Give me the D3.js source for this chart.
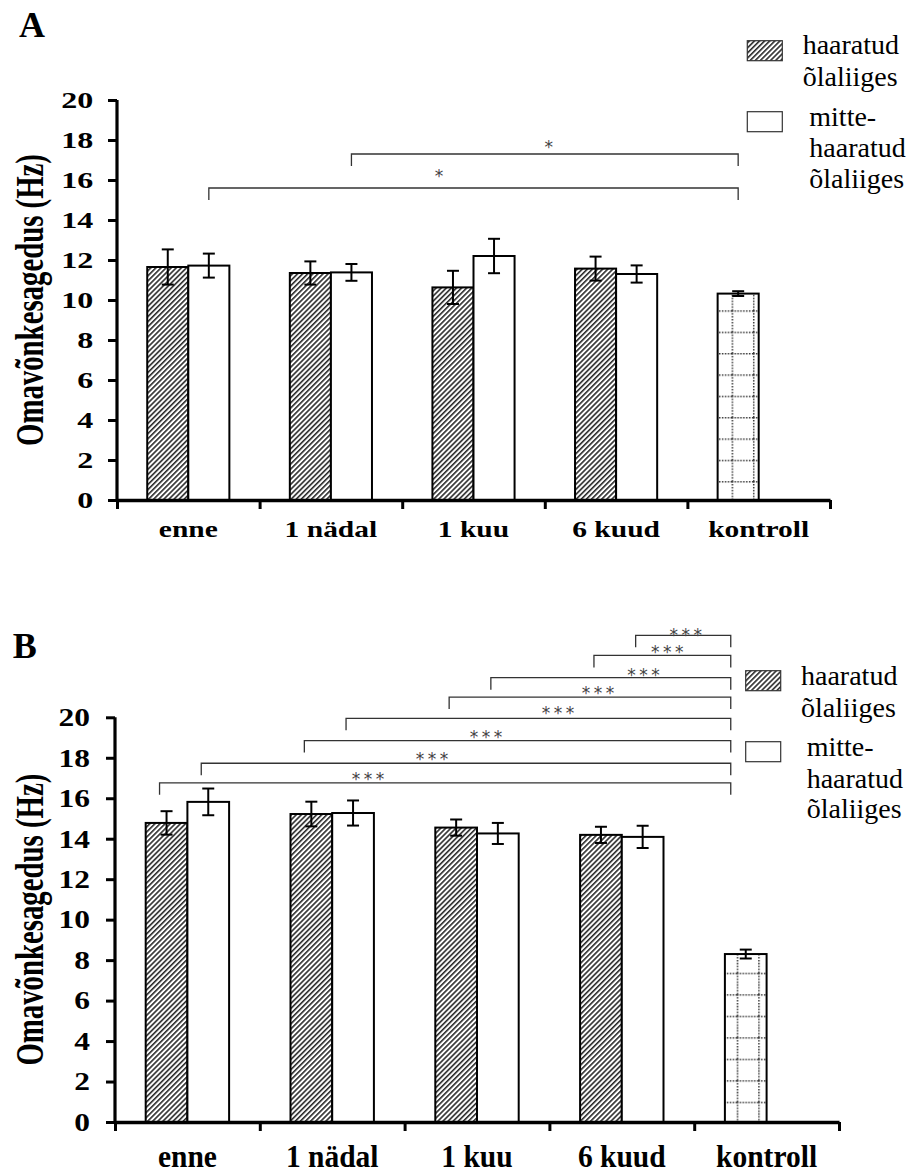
<!DOCTYPE html>
<html>
<head>
<meta charset="utf-8">
<script src="https://cdn.jsdelivr.net/npm/d3@7"></script>
<style>
  html, body { margin: 0; padding: 0; background: #fff; }
  svg { display: block; }
</style>
</head>
<body>
<svg id="chart" width="909" height="1173"></svg>
<script>
// ---------------- DATA ----------------
const categories = ["enne", "1 nädal", "1 kuu", "6 kuud", "kontroll"];
const seriesNames = ["haaratud õlaliiges", "mitte-haaratud õlaliiges"];
const yTicks = [0, 2, 4, 6, 8, 10, 12, 14, 16, 18, 20];

// Panel A
const affectedA      = [11.65, 11.35, 10.63, 11.57];
const affectedErrA   = [0.88, 0.58, 0.83, 0.60];
const unaffectedA    = [11.72, 11.38, 12.20, 11.30];
const unaffectedErrA = [0.60, 0.42, 0.86, 0.43];
const controlA = [10.32];
const controlErrA = [0.12];

// Panel B
const affectedB      = [14.78, 15.22, 14.55, 14.19];
const affectedErrB   = [0.58, 0.61, 0.40, 0.40];
const unaffectedB    = [15.82, 15.27, 14.26, 14.09];
const unaffectedErrB = [0.66, 0.62, 0.52, 0.55];
const controlB = [8.30];
const controlErrB = [0.22];

// Significance comparisons vs. kontroll: [category index, series index]
const sigPairsA = [[0, 1], [1, 1]];
const sigLabelsA = ["*", "*"];
const sigPairsB = [[0, 0], [0, 1], [1, 0], [1, 1], [2, 0], [2, 1], [3, 0], [3, 1]];
const sigLabelsB = ["***", "***", "***", "***", "***", "***", "***", "***"];

// ---------------- LAYOUT ----------------
const layoutA = {
  letter: "A", letterX: 19, letterY: 36.7,
  x0: 117, x1: 830, yTop: 100, yBottom: 500,
  tickFont: 32, tickSy: 0.73, tickX: 93.3, tickDy: 8.3,
  catFont: 29.5, catSy: 0.76, catY: 536.5,
  titleX: 42.7, titleSx: 1.37, titleFont: 28.8,
  bracketLevels: [15.6, 17.3], starFrac: [0.435, 0.51], starCenter: [16, 10.3],
  bracketLeftShift: 0, bracketRightShift: 0, leg: 12,
  legendX: 747.3, legendSwY: [40.7, 111.7], legendTextX: [802.7, 809.3],
  legendLines: [[54.3, 86], [126, 157.3, 188.3]],
  ctrlPatternOffset: [5.7, 11.4], ctrlCell: 21.35
};
const layoutB = {
  letter: "B", letterX: 12.7, letterY: 658.3,
  x0: 115, x1: 839, yTop: 717.3, yBottom: 1122,
  tickFont: 31.5, tickSy: 0.81, tickX: 90, tickDy: 8.8,
  catFont: 29.5, catSy: 1.04, catY: 1167,
  titleX: 42.7, titleSx: 1.37, titleFont: 28.8,
  bracketLevels: [16.76, 17.73, 18.85, 19.95, 21.0, 21.96, 23.06, 24.05],
  starFrac: [0.365, 0.436, 0.426, 0.551, 0.529, 0.636, 0.536, 0.528],
  starCenter: [7.7, 8, 7, 9, 7.7, 6.3, 7.3, 4.2],
  bracketLeftShift: -7, bracketRightShift: -15, leg: 12,
  legendX: 745.7, legendSwY: [670.7, 741.7], legendTextX: [801, 806.7],
  legendLines: [[685, 716.7], [756, 788.3, 818.3]],
  ctrlPatternOffset: [5.7, 5.2], ctrlCell: 21.5
};

const SERIF = "Liberation Serif, Times New Roman, serif";
const STAR_FONT = "DejaVu Sans, sans-serif";
const STAR_FS = 17;
const svg = d3.select("#chart");
const defs = svg.append("defs");

// hatch pattern
const hatch = defs.append("pattern")
  .attr("id", "hatch").attr("patternUnits", "userSpaceOnUse")
  .attr("width", 3.6).attr("height", 3.6)
  .attr("patternTransform", "rotate(45)");
hatch.append("rect").attr("width", 3.6).attr("height", 3.6).attr("fill", "#fff");
hatch.append("line").attr("x1", 0.8).attr("y1", 0).attr("x2", 0.8).attr("y2", 3.6)
  .attr("stroke", "#2a2a2a").attr("stroke-width", 1.6);

function makeCtrlPattern(id, L) {
  const c = L.ctrlCell;
  const p = defs.append("pattern").attr("id", id)
    .attr("patternUnits", "userSpaceOnUse")
    .attr("x", L.ctrlPatternOffset[0]).attr("y", L.ctrlPatternOffset[1])
    .attr("width", c).attr("height", c);
  p.append("rect").attr("width", c).attr("height", c).attr("fill", "#fff");
  p.append("line").attr("x1", 0).attr("y1", 0).attr("x2", c).attr("y2", 0)
    .attr("stroke", "#333").attr("stroke-width", 3).attr("stroke-dasharray", "1.5,1.4");
  p.append("line").attr("x1", 0).attr("y1", 0).attr("x2", 0).attr("y2", c)
    .attr("stroke", "#333").attr("stroke-width", 3).attr("stroke-dasharray", "1.5,1.4");
}
makeCtrlPattern("ctrlA", layoutA);
makeCtrlPattern("ctrlB", layoutB);

function drawPanel(L, affected, affErr, unaffected, unaffErr, control, controlErr, sigPairs, sigLabels, ctrlId) {
  const g = svg.append("g");
  const x = d3.scaleBand().domain(categories).range([L.x0, L.x1]).paddingInner(0).paddingOuter(0);
  const y = d3.scaleLinear().domain([0, 20]).range([L.yBottom, L.yTop]);
  const bw = x.bandwidth() * 0.288;
  const barX = (ci, si) => x(categories[ci]) + x.bandwidth() / 2 - bw + si * bw;
  const barC = (ci, si) => barX(ci, si) + bw / 2;

  // panel letter
  g.append("text").attr("x", L.letterX).attr("y", L.letterY)
    .attr("font-family", SERIF).attr("font-weight", "bold").attr("font-size", 36)
    .text(L.letter);

  // bars
  const barData = [];
  affected.forEach((v, i) => barData.push({ ci: i, si: 0, v, e: affErr[i], fill: "url(#hatch)" }));
  unaffected.forEach((v, i) => barData.push({ ci: i, si: 1, v, e: unaffErr[i], fill: "#fff" }));
  control.forEach((v, i) => barData.push({ ci: 4, si: 0, v, e: controlErr[i], fill: `url(#${ctrlId})` }));

  g.selectAll("rect.bar").data(barData).join("rect").attr("class", "bar")
    .attr("x", d => barX(d.ci, d.si)).attr("width", bw)
    .attr("y", d => y(d.v)).attr("height", d => y(0) - y(d.v))
    .attr("fill", d => d.fill).attr("stroke", "#000").attr("stroke-width", 2);

  // error bars
  const eb = g.selectAll("g.err").data(barData).join("g").attr("class", "err")
    .attr("stroke", "#000").attr("stroke-width", 2);
  eb.append("line").attr("x1", d => barC(d.ci, d.si)).attr("x2", d => barC(d.ci, d.si))
    .attr("y1", d => y(d.v - d.e)).attr("y2", d => y(d.v + d.e));
  eb.append("line").attr("x1", d => barC(d.ci, d.si) - 6).attr("x2", d => barC(d.ci, d.si) + 6)
    .attr("y1", d => y(d.v + d.e)).attr("y2", d => y(d.v + d.e));
  eb.append("line").attr("x1", d => barC(d.ci, d.si) - 6).attr("x2", d => barC(d.ci, d.si) + 6)
    .attr("y1", d => y(d.v - d.e)).attr("y2", d => y(d.v - d.e));

  // y axis
  const yAxis = d3.axisLeft(y).tickValues(yTicks).tickSize(9).tickFormat("");
  const ya = g.append("g").attr("transform", `translate(${L.x0},0)`).call(yAxis);
  ya.select(".domain").attr("d", `M0,${L.yTop}V${L.yBottom}`).attr("stroke-width", 3.2);
  ya.selectAll(".tick line").attr("stroke-width", 3);
  g.selectAll("text.ytick").data(yTicks).join("text").attr("class", "ytick")
    .attr("transform", d => `translate(${L.tickX},${y(d) + L.tickDy}) scale(1,${L.tickSy})`)
    .attr("text-anchor", "end").attr("font-family", SERIF).attr("font-weight", "bold")
    .attr("font-size", L.tickFont).text(d => d);

  // x axis
  const xb = d3.scaleLinear().domain([0, categories.length]).range([L.x0, L.x1]);
  const xAxis = d3.axisBottom(xb).tickValues(d3.range(categories.length + 1)).tickSize(9).tickFormat("").tickSizeOuter(0);
  const xa = g.append("g").attr("transform", `translate(0,${L.yBottom})`).call(xAxis);
  xa.select(".domain").attr("stroke-width", 3.4);
  xa.selectAll(".tick line").attr("stroke-width", 3);
  g.selectAll("text.xcat").data(categories).join("text").attr("class", "xcat")
    .attr("transform", d => `translate(${x(d) + x.bandwidth() / 2},${L.catY}) scale(1,${L.catSy})`)
    .attr("text-anchor", "middle").attr("font-family", SERIF).attr("font-weight", "bold")
    .attr("font-size", L.catFont).text(d => d);

  // y title
  g.append("text")
    .attr("transform", `translate(${L.titleX},${(L.yTop + L.yBottom) / 2}) scale(${L.titleSx},1) rotate(-90)`)
    .attr("text-anchor", "middle").attr("font-family", SERIF).attr("font-weight", "bold")
    .attr("font-size", L.titleFont).text("Omavõnkesagedus (Hz)");

  // significance brackets
  const xRight = barC(4, 0) + L.bracketRightShift;
  sigPairs.forEach((p, i) => {
    const xl = barC(p[0], p[1]) + L.bracketLeftShift;
    const yl = y(L.bracketLevels[i]);
    g.append("path")
      .attr("d", `M${xl},${yl + L.leg}V${yl}H${xRight}V${yl + L.leg}`)
      .attr("fill", "none").attr("stroke", "#333").attr("stroke-width", 1.3);
    const multi = sigLabels[i].length > 1;
    const ls = multi ? 3.5 : 0;
    g.append("text")
      .attr("x", xl + (xRight - xl) * L.starFrac[i] + ls / 2)
      .attr("y", yl - L.starCenter[i] + 0.57 * STAR_FS)
      .attr("text-anchor", "middle").attr("font-family", STAR_FONT)
      .attr("font-size", STAR_FS).attr("letter-spacing", ls)
      .attr("fill", "#444").text(sigLabels[i]);
  });

  // legend
  const swFills = ["url(#hatch)", "#fff"];
  const legendWords = [["haaratud", "õlaliiges"], ["mitte-", "haaratud", "õlaliiges"]];
  seriesNames.forEach((name, si) => {
    g.append("rect").attr("x", L.legendX).attr("y", L.legendSwY[si])
      .attr("width", 35).attr("height", 20)
      .attr("fill", swFills[si]).attr("stroke", "#333").attr("stroke-width", 1.2);
    legendWords[si].forEach((w, li) => {
      g.append("text").attr("x", L.legendTextX[si]).attr("y", L.legendLines[si][li])
        .attr("font-family", SERIF).attr("font-size", 28).attr("fill", "#000").text(w);
    });
  });
}

drawPanel(layoutA, affectedA, affectedErrA, unaffectedA, unaffectedErrA, controlA, controlErrA, sigPairsA, sigLabelsA, "ctrlA");
drawPanel(layoutB, affectedB, affectedErrB, unaffectedB, unaffectedErrB, controlB, controlErrB, sigPairsB, sigLabelsB, "ctrlB");
</script>
</body>
</html>
